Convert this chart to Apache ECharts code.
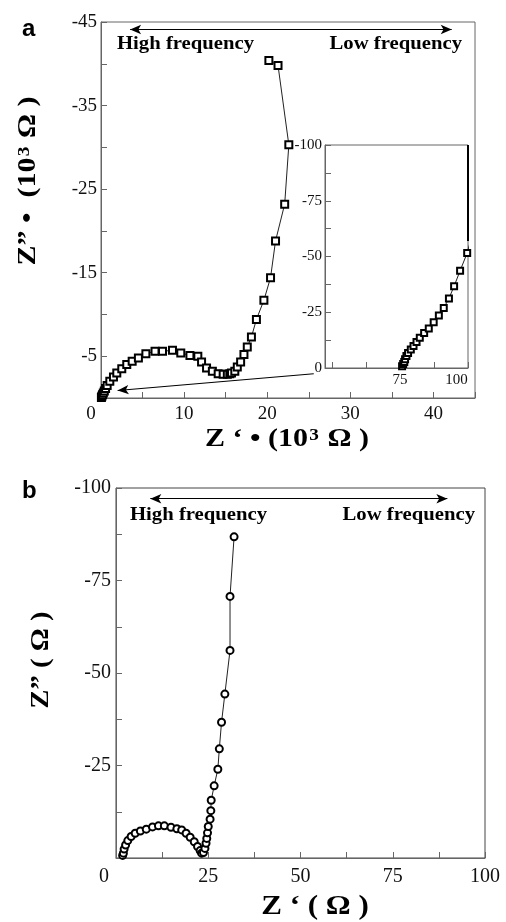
<!DOCTYPE html>
<html>
<head>
<meta charset="utf-8">
<script src="https://cdn.jsdelivr.net/npm/echarts@6/dist/echarts.min.js"></script>
<style>
  html, body { margin: 0; padding: 0; background: #fff; }
  #chart { width: 506px; height: 922px; }
</style>
</head>
<body>
<div id="chart"></div>
<script>
// ---- Panel a: Nyquist plot, Z' and Z'' in 10^3 ohm ----
const aRe = [0.05, 0.10, 0.18, 0.28, 0.40, 0.55, 0.74, 1.06, 1.50, 1.90, 2.50, 3.10, 3.75, 4.50, 5.40, 6.50, 7.40, 8.60, 9.60, 10.70, 11.65, 12.10, 12.70, 13.40, 14.10, 14.70, 15.20, 15.50, 15.70, 16.10, 16.40, 16.80, 17.20, 17.60, 18.10, 18.70, 19.60, 20.40, 21.00, 22.10, 22.60, 21.30, 20.20];
const aIm = [-0.05, -0.20, -0.40, -0.60, -0.85, -1.15, -1.50, -2.00, -2.50, -3.00, -3.50, -4.00, -4.40, -4.80, -5.30, -5.60, -5.60, -5.70, -5.40, -5.10, -5.00, -4.30, -3.60, -3.20, -2.90, -2.85, -2.85, -2.90, -3.00, -3.20, -3.70, -4.30, -5.20, -6.10, -7.30, -9.40, -11.70, -14.40, -18.80, -23.20, -30.30, -39.80, -40.40];
const aXLabels = [0, 10, 20, 30, 40];
const aXTicks = [0, 5, 10, 15, 20, 25, 30, 35, 40, 45];
const aYLabels = [-45, -35, -25, -15, -5];
const aYTicks = [-45, -40, -35, -30, -25, -20, -15, -10, -5, 0];
// frequency arrow and the pointer from the inset origin to the main origin
const aFreqArrow = [[3.5, -44.1], [42.2, -44.1]];
const aPointer = [[25.6, -2.9], [2.0, -0.9]];

// ---- Inset of panel a (ohm) ----
const insRe = [75.3, 75.8, 76.2, 76.6, 76.9, 77.4, 78.0, 79.0, 80.0, 81.1, 82.3, 83.9, 85.6, 87.4, 89.3, 91.1, 93.0, 94.9, 97.1, 99.7, 101.0];
const insIm = [0.0, -0.8, -1.8, -2.7, -3.9, -5.4, -6.7, -8.3, -9.9, -11.7, -13.6, -15.7, -17.7, -20.5, -23.5, -26.9, -31.2, -36.7, -43.6, -51.6, -57.5];
const insXLabels = [75, 100];
const insXTicks = [50, 62.5, 75, 87.5, 100];
const insYLabels = [-100, -75, -50, -25, 0];
const insYTicks = [-100, -87.5, -75, -62.5, -50, -37.5, -25, -12.5, 0];
const insEdge = [[100, -100], [100, -57]];

// ---- Panel b: Nyquist plot in ohm ----
const bRe = [1.8, 2.0, 2.2, 2.6, 3.2, 4.1, 5.2, 6.6, 8.2, 9.9, 11.5, 13.1, 14.9, 16.5, 17.8, 19.0, 20.1, 21.2, 22.1, 22.8, 23.2, 23.7, 24.1, 24.4, 24.6, 24.8, 25.0, 25.5, 25.7, 25.8, 26.6, 27.6, 28.0, 28.6, 29.5, 30.9, 30.9, 32.0];
const bIm = [-0.7, -1.3, -2.4, -3.5, -4.7, -5.8, -6.7, -7.3, -7.8, -8.4, -8.7, -8.7, -8.3, -7.9, -7.6, -6.7, -5.6, -4.4, -3.1, -2.0, -1.3, -1.5, -2.6, -4.0, -5.3, -6.8, -8.5, -10.5, -12.8, -15.6, -19.5, -24.0, -29.5, -36.7, -44.3, -56.1, -70.7, -86.8];
const bXLabels = [0, 25, 50, 75, 100];
const bXTicks = [0, 12.5, 25, 37.5, 50, 62.5, 75, 87.5, 100];
const bYLabels = [-100, -75, -50, -25];
const bYTicks = [-100, -87.5, -75, -62.5, -50, -37.5, -25, -12.5, 0];
const bFreqArrow = [[9.3, -97.1], [89.8, -97.1]];

const SERIF = '"Liberation Serif", "Times New Roman", serif';
const SANS = '"Liberation Sans", Arial, sans-serif';
const FRAME = '#666';

function pairs(xs, ys) { return xs.map((x, i) => [x, ys[i]]); }

function xAxisCfg(grid, min, max, ticks, labels, size, margin, shifted) {
  return {
    gridIndex: grid, type: 'value', min: min, max: max,
    axisLine: { show: true, onZero: false, lineStyle: { color: FRAME, width: 1 } },
    axisTick: { show: true, inside: true, length: 6, customValues: ticks, lineStyle: { color: FRAME } },
    axisLabel: {
      customValues: labels, fontFamily: SERIF, fontSize: size, color: '#111', margin: margin,
      formatter: v => (shifted && shifted[v] !== undefined) ? '{s' + shifted[v] + '|' + v + '}' : String(v),
      rich: {
        s20: { fontFamily: SERIF, fontSize: size, color: '#111', padding: [0, 20, 0, 0] },
        s23: { fontFamily: SERIF, fontSize: size, color: '#111', padding: [0, 23, 0, 0] },
        s24: { fontFamily: SERIF, fontSize: size, color: '#111', padding: [0, 24, 0, 0] }
      }
    },
    splitLine: { show: false }
  };
}
function yAxisCfg(grid, min, max, ticks, labels, size, margin) {
  return {
    gridIndex: grid, type: 'value', min: min, max: max, inverse: true,
    axisLine: { show: true, onZero: false, lineStyle: { color: FRAME, width: 1 } },
    axisTick: { show: true, inside: true, length: 6, customValues: ticks, lineStyle: { color: FRAME } },
    axisLabel: { customValues: labels, fontFamily: SERIF, fontSize: size, color: '#111', margin: margin },
    splitLine: { show: false }
  };
}

function text(x, y, str, opts) {
  return Object.assign({
    type: 'text', x: x, y: y,
    style: Object.assign({
      text: str, fill: '#000', fontFamily: SERIF, fontWeight: 'bold', fontSize: 20,
      textAlign: 'left', textVerticalAlign: 'middle'
    }, opts.style || {})
  }, opts.el || {});
}

// axis title with a raised exponent
function title(x, y, str, size, extra) {
  return text(x, y, str, {
    style: {
      fontSize: size, textAlign: 'center',
      rich: {
        b: { fontFamily: SERIF, fontWeight: 'bold', fontSize: size, fill: '#000' },
        sup: { fontFamily: SERIF, fontWeight: 'bold', fontSize: Math.round(size * 0.62), fill: '#000', verticalAlign: 'top', padding: [0, 1, 0, 1] }
      }
    },
    el: extra
  });
}

const option = {
  animation: false,
  backgroundColor: '#fff',
  grid: [
    { left: 101, top: 22, right: 31, bottom: 524, show: true, borderColor: FRAME, borderWidth: 1 },
    { left: 325, top: 145, width: 143, height: 223, show: true, borderColor: FRAME, borderWidth: 1 },
    { left: 116, top: 488, right: 21, bottom: 64, show: true, borderColor: '#444', borderWidth: 1 }
  ],
  xAxis: [
    xAxisCfg(0, 0, 45, aXTicks, aXLabels, 19, 7, { 0: 20 }),
    xAxisCfg(1, 47.5, 100, insXTicks, insXLabels, 15, 5, { 100: 23 }),
    xAxisCfg(2, 0, 100, bXTicks, bXLabels, 20, 9, { 0: 24 })
  ],
  yAxis: [
    yAxisCfg(0, -45, 0, aYTicks, aYLabels, 19, 4),
    yAxisCfg(1, -100, 0, insYTicks, insYLabels, 15, 3),
    yAxisCfg(2, -100, 0, bYTicks, bYLabels, 20, 5)
  ],
  series: [
    {
      type: 'line', xAxisIndex: 0, yAxisIndex: 0,
      data: pairs(aRe, aIm),
      symbol: 'emptyRect', symbolSize: 7, showAllSymbol: true,
      lineStyle: { color: '#222', width: 1 },
      itemStyle: { color: '#000', borderWidth: 1 },
      markLine: {
        silent: true, animation: false, label: { show: false },
        lineStyle: { color: '#000', width: 1.2, type: 'solid' },
        symbolSize: [7, 11],
        data: [
          [{ coord: aFreqArrow[0], symbol: 'arrow' }, { coord: aFreqArrow[1], symbol: 'arrow' }],
          [{ coord: aPointer[0], symbol: 'none' }, { coord: aPointer[1], symbol: 'arrow' }]
        ]
      }
    },
    {
      type: 'line', xAxisIndex: 1, yAxisIndex: 1,
      data: pairs(insRe, insIm).map((p, i) => (i === 0 || i === insRe.length - 1) ? { value: p, symbol: 'none' } : p),
      symbol: 'emptyRect', symbolSize: 6, showAllSymbol: true,
      lineStyle: { color: '#222', width: 1 },
      itemStyle: { color: '#000', borderWidth: 1 },
      markLine: {
        silent: true, animation: false, label: { show: false }, symbol: 'none',
        lineStyle: { color: '#000', width: 2, type: 'solid' },
        data: [[{ coord: insEdge[0] }, { coord: insEdge[1] }]]
      }
    },
    {
      type: 'line', xAxisIndex: 2, yAxisIndex: 2,
      data: pairs(bRe, bIm),
      symbol: 'emptyCircle', symbolSize: 7, showAllSymbol: true,
      lineStyle: { color: '#222', width: 1 },
      itemStyle: { color: '#000', borderWidth: 1 },
      markLine: {
        silent: true, animation: false, label: { show: false },
        lineStyle: { color: '#000', width: 1.2, type: 'solid' },
        symbolSize: [7, 11],
        data: [
          [{ coord: bFreqArrow[0], symbol: 'arrow' }, { coord: bFreqArrow[1], symbol: 'arrow' }]
        ]
      }
    }
  ],
  graphic: [
    // panel letters
    text(22, 29, 'a', { style: { fontFamily: SANS, fontSize: 24 } }),
    text(22, 491, 'b', { style: { fontFamily: SANS, fontSize: 24 } }),
    // frequency captions
    text(117, 44, 'High frequency', { style: { fontSize: 18 }, el: { scaleX: 1.15 } }),
    text(462, 44, 'Low frequency', { style: { fontSize: 18, textAlign: 'right' }, el: { scaleX: 1.15 } }),
    text(130, 515, 'High frequency', { style: { fontSize: 18 }, el: { scaleX: 1.15 } }),
    text(475, 515, 'Low frequency', { style: { fontSize: 18, textAlign: 'right' }, el: { scaleX: 1.15 } }),
    // axis titles
    title(287, 440, '{b|Z \u2018 \u2022 (10}{sup|3}{b| \u03A9 )}', 25, { scaleX: 1.2 }),
    title(29, 181, '{b|Z\u201D \u2022  (10}{sup|3}{b| \u03A9 )}', 25, { rotation: Math.PI / 2, scaleX: 1.2 }),
    title(315, 907, '{b|Z \u2018 ( \u03A9 )}', 27, { scaleX: 1.15 }),
    title(42, 660, '{b|Z\u201D ( \u03A9 )}', 25, { rotation: Math.PI / 2, scaleX: 1.15 })
  ]
};

const chart = echarts.init(document.getElementById('chart'), null, { renderer: 'canvas' });
chart.setOption(option);
</script>
</body>
</html>
